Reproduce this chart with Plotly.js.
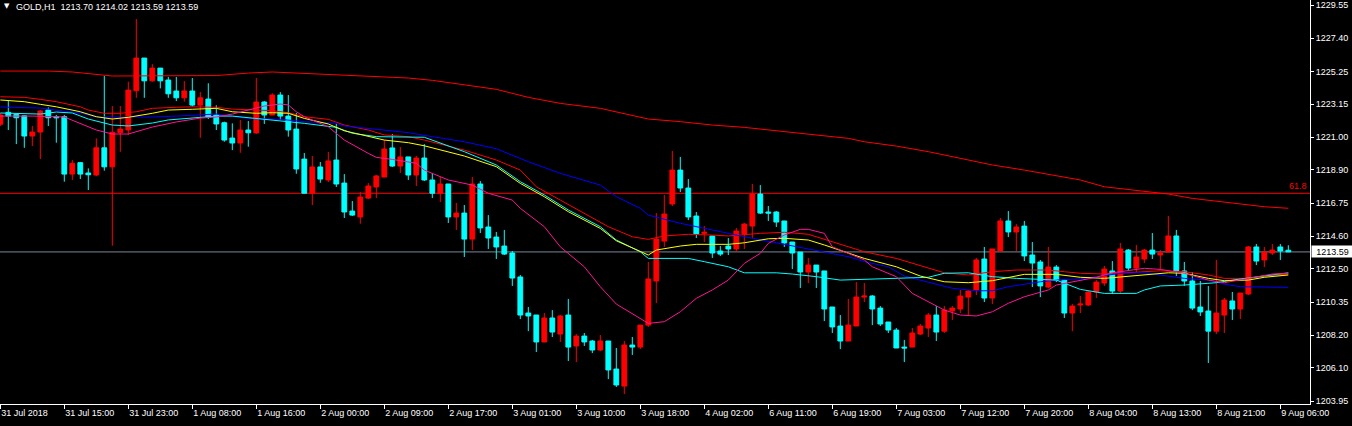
<!DOCTYPE html>
<html>
<head>
<meta charset="utf-8">
<script src="https://cdn.plot.ly/plotly-3.0.1.min.js"></script>
<style>
  html, body { margin: 0; padding: 0; background: #000; }
  #chart { width: 1352px; height: 426px; }
</style>
</head>
<body>
<div id="chart"></div>
<script>
// ---- OHLC (GOLD, H1), one entry per bar ----
const open = [1221.84,1222.61,1222.48,1222.39,1221.08,1221.34,1222.76,1222.33,1222.33,1218.62,
1219.36,1218.69,1218.56,1220.32,1219.09,1221.29,1221.47,1224.01,1226.12,1224.65,
1225.47,1224.70,1223.99,1223.55,1223.99,1223.08,1223.47,1222.44,1221.94,1220.95,
1220.63,1221.47,1221.28,1223.28,1222.44,1223.73,1222.37,1221.53,1219.59,1217.38,
1219.08,1218.24,1219.53,1218.04,1216.23,1215.85,1217.07,1217.79,1218.43,1220.31,
1219.14,1219.73,1218.56,1219.66,1218.24,1217.38,1217.98,1215.85,1216.10,1214.42,
1217.98,1215.20,1214.55,1213.97,1213.52,1211.97,1209.64,1209.51,1207.77,1209.32,
1208.28,1209.51,1207.51,1208.15,1207.83,1207.25,1207.83,1206.02,1204.92,1207.57,
1207.44,1208.86,1211.71,1214.29,1216.69,1218.88,1217.72,1215.91,1214.79,1214.62,
1213.65,1213.97,1213.78,1214.75,1215.26,1217.33,1216.17,1216.17,1215.59,1214.23,
1213.58,1212.29,1212.74,1212.36,1210.03,1208.80,1207.83,1208.80,1210.67,1210.74,
1209.96,1209.06,1208.54,1207.44,1207.44,1208.28,1208.67,1209.51,1208.47,1209.77,
1209.90,1210.67,1211.13,1213.13,1210.61,1213.65,1215.59,1214.88,1215.26,1213.39,
1212.94,1211.32,1212.61,1211.77,1209.64,1210.16,1210.16,1211.00,1211.58,1212.36,
1211.06,1213.71,1212.55,1213.13,1213.71,1213.39,1213.58,1214.62,1212.36,1211.71,
1210.03,1209.77,1208.47,1209.51,1210.42,1209.90,1210.87,1213.91,1213.07,1213.52,
1213.91,1213.70];
const high = [1222.57,1223.41,1222.50,1222.44,1221.73,1222.76,1222.93,1222.44,1222.44,1219.53,
1219.40,1218.99,1220.93,1224.96,1223.02,1223.02,1224.59,1228.64,1226.12,1225.73,
1225.47,1224.90,1224.90,1224.63,1224.83,1223.92,1224.49,1223.07,1222.01,1221.90,
1222.12,1222.05,1224.83,1223.34,1223.84,1223.92,1223.73,1222.57,1219.98,1219.79,
1219.40,1220.05,1221.86,1218.62,1216.88,1217.46,1218.04,1218.56,1220.82,1221.21,
1220.37,1219.73,1219.79,1220.56,1218.69,1218.45,1217.98,1216.75,1216.62,1218.43,
1218.17,1215.97,1214.88,1215.01,1213.65,1212.10,1210.03,1209.51,1209.64,1209.83,
1209.51,1210.55,1208.28,1208.35,1207.90,1208.22,1207.83,1207.38,1207.83,1208.09,
1208.86,1212.94,1216.10,1217.27,1220.11,1219.73,1218.30,1216.17,1215.26,1214.62,
1213.97,1214.49,1215.14,1215.46,1217.98,1217.91,1216.56,1216.23,1215.59,1214.23,
1213.58,1213.20,1212.74,1212.36,1210.03,1209.51,1210.55,1211.64,1211.58,1210.80,
1210.09,1209.06,1208.67,1207.90,1208.67,1208.93,1209.64,1210.09,1210.09,1210.09,
1211.13,1211.13,1213.20,1213.91,1213.78,1215.78,1216.23,1215.39,1215.59,1214.23,
1213.07,1213.91,1212.74,1211.84,1210.22,1210.74,1211.05,1211.77,1212.68,1213.00,
1214.17,1213.78,1214.04,1213.78,1214.81,1213.71,1215.91,1215.01,1212.94,1212.29,
1211.71,1211.39,1213.07,1210.61,1211.00,1210.93,1213.97,1214.10,1213.91,1214.10,
1214.10,1214.02];
const low = [1221.73,1221.47,1220.56,1220.32,1220.43,1219.59,1221.73,1220.65,1218.13,1218.24,
1218.30,1217.59,1218.49,1218.84,1213.99,1220.06,1221.14,1223.55,1223.55,1224.59,
1224.16,1223.55,1223.34,1223.30,1222.98,1220.97,1222.18,1221.47,1220.71,1220.17,
1220.00,1220.39,1221.23,1221.86,1222.44,1222.12,1221.04,1218.64,1217.38,1216.62,
1218.06,1218.11,1217.79,1215.78,1215.91,1215.41,1217.01,1217.07,1218.43,1219.08,
1218.69,1218.24,1217.85,1218.17,1217.07,1216.82,1215.46,1215.01,1213.26,1213.71,
1214.81,1213.78,1213.13,1213.39,1211.39,1209.25,1208.47,1207.12,1207.77,1208.09,
1207.77,1206.54,1206.47,1207.51,1207.05,1207.18,1205.37,1204.86,1204.40,1206.93,
1207.31,1208.74,1210.29,1213.91,1216.56,1217.46,1215.65,1214.49,1214.23,1213.20,
1213.33,1213.39,1213.58,1213.78,1214.49,1216.04,1215.59,1215.20,1213.91,1212.48,
1211.26,1211.58,1211.26,1209.12,1208.35,1207.31,1207.83,1208.80,1210.35,1208.86,
1208.80,1208.35,1207.38,1206.47,1207.44,1208.22,1208.09,1207.83,1208.35,1209.19,
1209.64,1209.45,1210.80,1210.35,1210.22,1213.65,1214.55,1213.65,1213.00,1211.32,
1210.67,1211.26,1211.64,1209.32,1208.47,1209.64,1210.10,1210.61,1211.39,1210.87,
1210.93,1212.42,1212.29,1212.87,1213.13,1212.42,1213.58,1212.03,1211.39,1209.83,
1209.45,1206.41,1208.28,1208.35,1209.19,1209.25,1210.80,1212.74,1212.61,1213.39,
1213.07,1213.59];
const close = [1222.44,1222.37,1222.26,1221.08,1221.34,1222.70,1222.26,1222.26,1218.62,1219.31,
1218.62,1218.58,1220.32,1219.09,1221.32,1221.53,1224.05,1226.12,1224.65,1225.47,
1224.65,1223.81,1223.55,1223.99,1223.08,1223.55,1222.31,1221.86,1220.82,1220.63,
1221.47,1221.29,1223.28,1222.44,1223.73,1222.37,1221.47,1218.95,1217.38,1219.08,
1218.30,1219.47,1217.98,1216.17,1215.97,1217.14,1217.85,1218.50,1220.24,1219.14,
1219.73,1218.56,1219.66,1218.24,1217.38,1217.98,1215.85,1216.10,1214.42,1217.98,
1215.14,1214.49,1213.91,1213.45,1211.90,1209.51,1209.45,1207.77,1209.32,1208.41,
1209.45,1207.44,1208.15,1207.77,1207.25,1207.83,1205.96,1204.99,1207.57,1207.44,
1208.86,1211.84,1214.42,1216.04,1218.88,1217.72,1215.85,1214.75,1214.86,1213.52,
1213.45,1213.78,1214.94,1215.39,1217.33,1216.10,1216.10,1215.52,1214.17,1213.52,
1212.29,1212.74,1212.29,1209.90,1208.74,1207.83,1208.86,1210.67,1210.74,1209.90,
1208.93,1208.54,1207.38,1207.38,1208.35,1208.80,1209.51,1208.41,1209.83,1209.96,
1210.74,1211.06,1213.07,1210.61,1213.78,1215.59,1214.88,1215.20,1213.33,1212.87,
1211.39,1212.61,1211.77,1209.64,1210.09,1210.22,1211.00,1211.64,1212.48,1211.06,
1213.78,1212.55,1213.26,1213.71,1213.45,1213.52,1214.62,1212.36,1211.71,1209.96,
1209.71,1208.47,1209.64,1210.48,1209.90,1210.93,1213.91,1213.00,1213.58,1213.71,
1213.65,1213.59];

// ---- x-axis time labels (bar index -> label) ----
const timeTickBars = [0,8,16,24,32,40,48,56,64,72,80,88,96,104,112,120,128,136,144,152,160];
const timeTickLabels = ["31 Jul 2018","31 Jul 15:00","31 Jul 23:00","1 Aug 08:00","1 Aug 16:00",
  "2 Aug 00:00","2 Aug 09:00","2 Aug 17:00","3 Aug 01:00","3 Aug 10:00","3 Aug 18:00",
  "4 Aug 02:00","6 Aug 11:00","6 Aug 19:00","7 Aug 03:00","7 Aug 12:00","7 Aug 20:00",
  "8 Aug 04:00","8 Aug 13:00","8 Aug 21:00","9 Aug 06:00"];

// ---- price axis ticks ----
const priceTicks = [1229.55,1227.40,1225.25,1223.15,1221.00,1218.90,1216.75,1214.60,1212.50,1210.35,1208.20,1206.10,1203.95];

// ---- moving averages (bar index, value) ----
const maLongBars = [0,6,9,12,14,27,31,34,37,41,45,48,51,54,58,62,66,70,75,79,81,85,89,93,97,101,106,108,112,116,120,124,128,132,135,138,143,146,149,153,156,158,161];
const maLong = [1225.28,1225.28,1225.22,1225.09,1224.96,1224.99,1225.15,1225.22,1225.15,1225.09,1225.00,1224.94,1224.83,1224.68,1224.38,1224.10,1223.58,1223.19,1222.87,1222.44,1222.18,1222.01,1221.79,1221.64,1221.42,1221.19,1220.93,1220.71,1220.43,1220.07,1219.64,1219.21,1218.88,1218.50,1218.24,1217.80,1217.48,1217.33,1217.05,1216.83,1216.66,1216.51,1216.41];

const maRedBars = [0,3,5,7,10,11,13,15,17,19,22,24,27,29,32,34,36,38,41,43,46,48,51,53,58,62,65,67,70,73,76,79,81,83,86,89,91,95,98,101,103,106,108,112,116,118,121,124,127,131,133,135,138,143,145,148,151,153,156,158,161];
const maRed = [1223.62,1223.58,1223.45,1223.30,1222.97,1222.76,1222.55,1222.55,1222.65,1222.87,1222.94,1222.97,1222.94,1222.82,1222.76,1222.72,1222.59,1222.33,1222.16,1221.79,1221.47,1221.15,1221.04,1220.82,1220.17,1219.53,1218.88,1217.80,1216.94,1216.09,1215.22,1214.57,1214.40,1214.62,1214.73,1214.68,1214.62,1214.79,1214.86,1214.73,1214.40,1213.92,1213.60,1213.17,1212.53,1212.24,1212.10,1212.31,1212.42,1212.42,1212.31,1212.21,1212.16,1212.31,1212.37,1212.31,1212.10,1211.88,1211.88,1212.03,1212.16];

const maYellowBars = [0,3,5,7,10,12,14,16,19,21,24,27,29,32,34,36,38,41,43,46,48,51,53,58,62,65,68,71,75,77,80,81,82,85,87,91,93,96,98,101,103,106,108,112,115,118,121,124,127,128,132,135,138,143,146,148,151,153,156,158,161];
const maYellow = [1223.41,1223.30,1223.13,1222.97,1222.65,1222.33,1222.18,1222.29,1222.55,1222.76,1222.81,1222.87,1222.65,1222.55,1222.59,1222.55,1222.22,1221.86,1221.42,1221.04,1220.82,1220.65,1220.45,1219.79,1219.10,1218.02,1217.16,1216.19,1215.11,1214.31,1213.60,1213.39,1213.71,1213.97,1214.08,1214.08,1214.18,1214.44,1214.47,1214.36,1214.04,1213.50,1213.17,1212.63,1212.03,1211.66,1211.60,1211.73,1212.03,1212.14,1212.14,1211.95,1211.88,1212.10,1212.24,1212.21,1211.88,1211.73,1211.77,1211.95,1212.10];

const maBlueBars = [0,5,7,10,12,16,19,22,27,31,35,38,42,43,46,48,51,54,58,62,66,70,75,77,80,81,85,89,93,97,101,106,108,111,113,116,119,122,124,126,128,130,132,135,137,140,143,145,148,151,153,155,158,161];
const maBlue = [1222.96,1222.89,1222.76,1222.57,1222.31,1222.29,1222.31,1222.37,1222.50,1222.22,1222.16,1222.01,1221.90,1221.73,1221.58,1221.47,1221.30,1221.04,1220.71,1220.26,1219.42,1218.67,1217.91,1217.16,1216.41,1215.97,1215.44,1215.01,1214.57,1214.18,1213.76,1213.28,1212.96,1212.63,1212.03,1211.66,1211.24,1211.08,1211.08,1211.34,1211.51,1211.66,1211.77,1211.86,1211.99,1212.20,1212.24,1212.10,1211.88,1211.77,1211.51,1211.34,1211.30,1211.30];

const maAquaBars = [0,5,7,9,11,14,16,19,21,24,27,29,33,35,38,42,44,47,50,53,58,62,65,68,71,75,77,80,81,86,88,91,93,97,99,102,105,108,112,116,118,121,124,127,132,133,135,138,142,143,145,148,152,154,158,161];
const maAqua = [1222.57,1222.50,1222.63,1222.57,1222.18,1221.79,1221.73,1221.92,1222.12,1222.24,1222.37,1222.37,1222.16,1222.07,1221.90,1221.64,1221.26,1221.04,1221.04,1221.00,1220.07,1219.21,1218.13,1217.27,1216.30,1215.22,1214.36,1213.60,1213.17,1213.17,1212.96,1212.63,1212.24,1212.24,1212.16,1211.99,1211.77,1211.82,1211.90,1211.95,1212.21,1212.24,1211.99,1211.88,1211.77,1211.56,1211.17,1210.91,1210.91,1211.13,1211.39,1211.45,1211.60,1211.77,1212.03,1212.24];

const maPinkBars = [0,4,8,12,14,16,19,22,25,27,29,31,33,35,36,37,38,41,43,46,47,49,52,53,56,59,61,64,65,68,70,73,75,77,79,81,83,85,87,89,91,93,95,96,98,100,101,103,104,106,108,109,112,114,116,118,120,122,124,126,128,131,132,135,137,139,143,145,148,151,153,156,159,161];
const maPink = [1222.37,1222.37,1222.31,1221.47,1221.21,1221.21,1221.66,1221.99,1222.24,1222.31,1222.50,1222.76,1223.02,1223.15,1223.09,1222.65,1222.33,1221.68,1220.82,1219.96,1219.70,1219.57,1219.32,1218.88,1218.24,1217.91,1217.38,1216.94,1216.41,1215.22,1213.92,1212.63,1211.34,1210.22,1209.62,1208.97,1209.08,1209.72,1210.59,1211.13,1211.77,1212.85,1213.50,1214.14,1214.68,1215.05,1215.05,1214.79,1213.92,1213.50,1213.07,1212.63,1211.99,1210.91,1210.37,1209.83,1209.51,1209.45,1209.72,1210.27,1210.69,1211.13,1211.45,1211.73,1211.95,1212.24,1212.53,1212.46,1212.21,1211.77,1211.60,1211.88,1212.16,1212.21];

// ---- levels ----
const fibLevel = 1217.38;      // 61.8 level
const fibLabel = "61.8";
const lastPrice = 1213.59;
const headerText = "GOLD,H1  1213.70 1214.02 1213.59 1213.59";

// ---------------------------------------------------------------
const barIndex = open.map((_, i) => i);
const FONT = "'Liberation Sans', Arial, sans-serif";
const FS = 9;

function maTrace(xs, ys, color) {
  return { type: 'scatter', mode: 'lines', x: xs, y: ys,
           line: { color: color, width: 1 }, hoverinfo: 'skip', showlegend: false };
}

const traces = [
  {
    type: 'candlestick', x: barIndex, open: open, high: high, low: low, close: close,
    increasing: { line: { color: '#FF0000', width: 1 }, fillcolor: '#FF0000' },
    decreasing: { line: { color: '#00FFFF', width: 1 }, fillcolor: '#00FFFF' },
    whiskerwidth: 0, hoverinfo: 'skip', showlegend: false
  },
  maTrace(maLongBars, maLong, '#FF0000'),
  maTrace(maRedBars, maRed, '#FF0000'),
  maTrace(maBlueBars, maBlue, '#0000FF'),
  maTrace(maAquaBars, maAqua, '#00FFFF'),
  maTrace(maYellowBars, maYellow, '#FFFF00'),
  maTrace(maPinkBars, maPink, '#FF1493')
];

const layout = {
  width: 1352, height: 426,
  margin: { l: 0, r: 42, t: 0, b: 22, pad: 0 },
  paper_bgcolor: '#000000', plot_bgcolor: '#000000',
  showlegend: false,
  boxgap: 0.4, boxgroupgap: 0,
  font: { family: FONT, size: FS, color: '#FFFFFF' },
  xaxis: {
    range: [-0.0375, 163.71], fixedrange: true,
    tickmode: 'array', tickvals: timeTickBars, ticktext: timeTickLabels,
    tickangle: 0,
    ticks: 'outside', ticklen: 4, tickcolor: '#FFFFFF', tickwidth: 1,
    ticklabelposition: 'outside right',
    tickfont: { family: FONT, size: FS, color: '#FFFFFF' },
    showgrid: false, zeroline: false,
    showline: true, linecolor: '#FFFFFF', linewidth: 1,
    rangeslider: { visible: false }
  },
  yaxis: {
    side: 'right', range: [1203.76, 1229.873], fixedrange: true,
    tickmode: 'array', tickvals: priceTicks, ticktext: priceTicks.map(v => v.toFixed(2)),
    ticks: 'outside', ticklen: 3, tickcolor: '#FFFFFF', tickwidth: 1,
    tickfont: { family: FONT, size: FS, color: '#FFFFFF' },
    showgrid: false, zeroline: false,
    showline: true, linecolor: '#FFFFFF', linewidth: 1
  },
  shapes: [
    { type: 'line', xref: 'paper', x0: 0, x1: 1, yref: 'y', y0: fibLevel, y1: fibLevel,
      line: { color: '#FF0000', width: 1 }, layer: 'below' },
    { type: 'line', xref: 'paper', x0: 0, x1: 1, yref: 'y', y0: lastPrice, y1: lastPrice,
      line: { color: '#778899', width: 1 }, layer: 'below' }
  ],
  annotations: [
    { xref: 'paper', yref: 'paper', x: 0, y: 1, xanchor: 'left', yanchor: 'top',
      xshift: 14, yshift: 0, showarrow: false, text: headerText,
      font: { family: FONT, size: FS, color: '#FFFFFF' } },
    { xref: 'paper', yref: 'paper', x: 0, y: 1, xanchor: 'left', yanchor: 'top',
      xshift: 2, yshift: 0, showarrow: false, text: '▼',
      font: { family: 'DejaVu Sans', size: 7, color: '#FFFFFF' } },
    { xref: 'paper', yref: 'y', x: 1, y: fibLevel, xanchor: 'right', yanchor: 'bottom',
      xshift: -1, yshift: 0, showarrow: false, text: fibLabel,
      font: { family: FONT, size: FS, color: '#FF0000' } },
    { xref: 'paper', yref: 'y', x: 1, y: lastPrice, xanchor: 'left', yanchor: 'middle',
      xshift: 1, showarrow: false, text: lastPrice.toFixed(2),
      bgcolor: '#FFFFFF', borderpad: 0, width: 41, height: 11, align: 'center',
      font: { family: FONT, size: FS, color: '#000000' } }
  ]
};

Plotly.newPlot('chart', traces, layout, { displayModeBar: false, staticPlot: true });
</script>
</body>
</html>
